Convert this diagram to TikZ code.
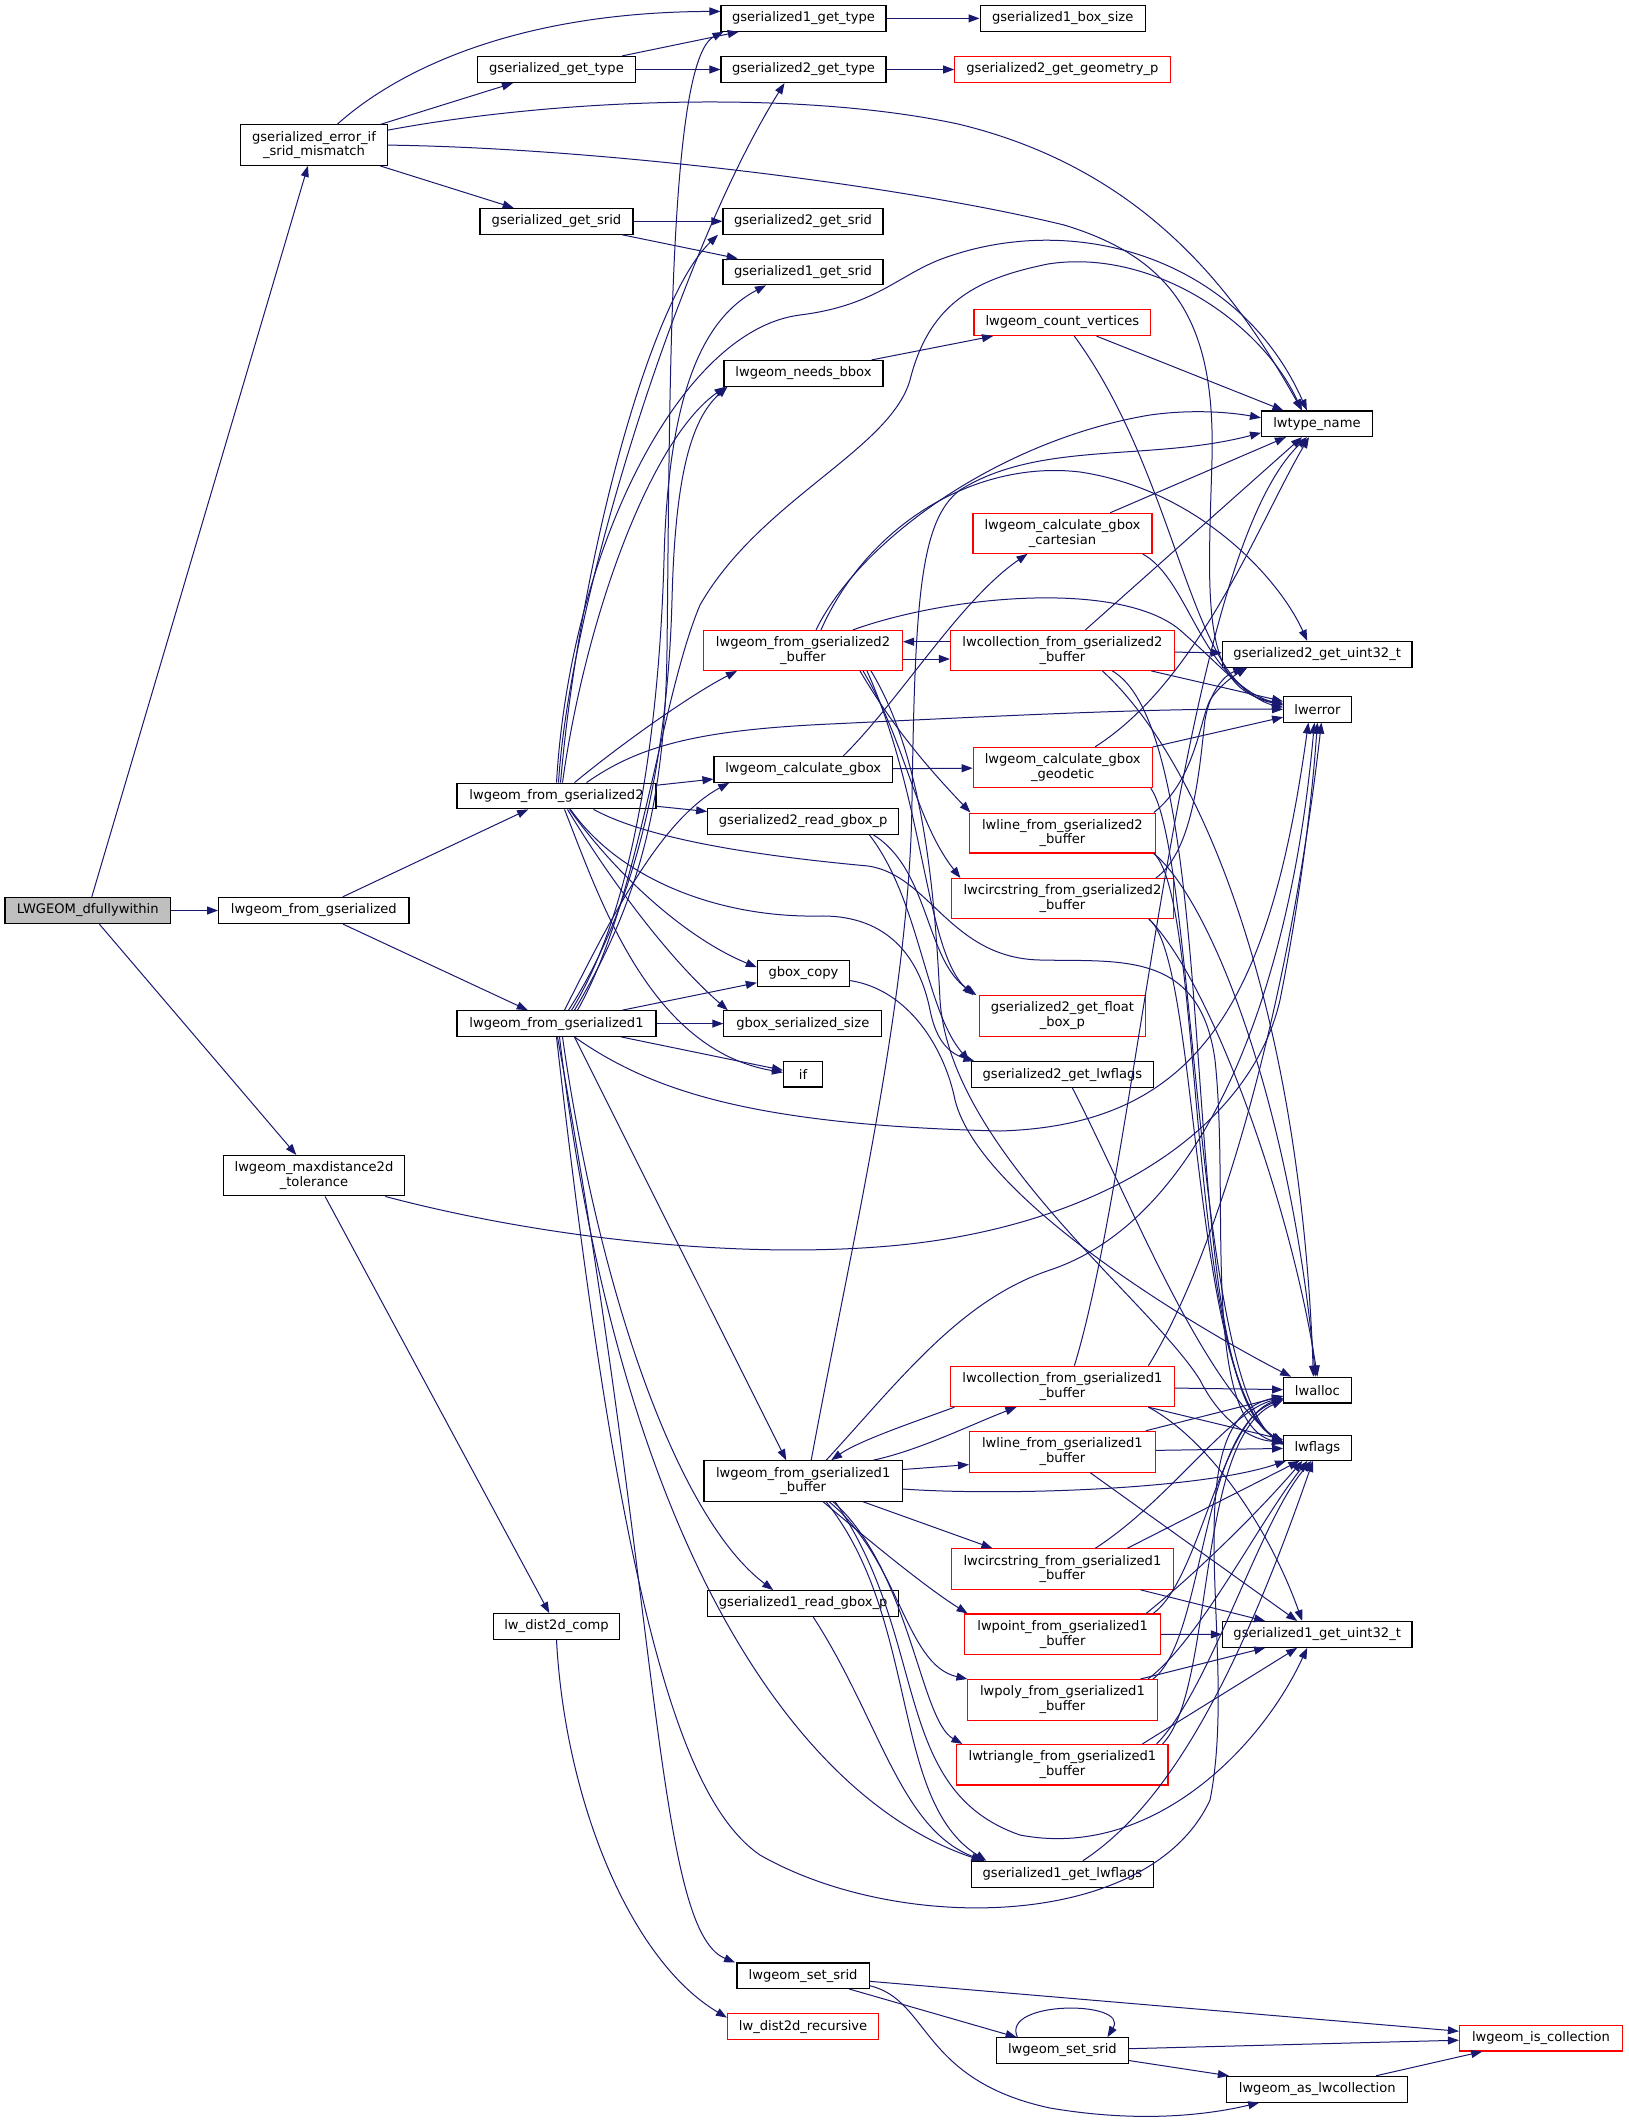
\documentclass[tikz,border=0pt]{standalone}
\usepackage{fontspec}
\setmainfont{DejaVu Sans}
\usetikzlibrary{arrows.meta}
\definecolor{navy}{HTML}{191970}
\definecolor{nodegray}{HTML}{BFBFBF}
\begin{document}
\begin{tikzpicture}[x=1pt,y=1pt,
 box/.style={draw=black, line width=1.1pt, fill=white, inner sep=0pt, align=center, font=\fontsize{13.1}{14.7}\selectfont},
 redbox/.style={box, draw=red},
 call/.style={draw=navy, line width=1pt, -{Triangle[length=11pt,width=8pt]}}]
\fill[white] (0,0) rectangle (1628,-2122);
\path[use as bounding box] (0,0) rectangle (1628,-2122);

% ---------- nodes ----------
\node[box, fill=nodegray, minimum width=165.5pt, minimum height=26.2pt] (n0) at (87.75,-910.5) {LWGEOM\_dfullywithin};
\node[box, minimum width=147pt, minimum height=40.4pt] (n1) at (314,-145.1) {gserialized\_error\_if\\\_srid\_mismatch};
\node[box, minimum width=190.4pt, minimum height=26.2pt] (n2) at (313.8,-910.5) {lwgeom\_from\_gserialized};
\node[box, minimum width=181.5pt, minimum height=40.4pt] (n3) at (314,-1175.7) {lwgeom\_maxdistance2d\\\_tolerance};
\node[box, minimum width=158pt, minimum height=26.1pt] (n4) at (556.5,-69.5) {gserialized\_get\_type};
\node[box, minimum width=153pt, minimum height=25.8pt] (n5) at (556.5,-221.3) {gserialized\_get\_srid};
\node[box, minimum width=199pt, minimum height=25.7pt] (n6) at (556.5,-796) {lwgeom\_from\_gserialized2};
\node[box, minimum width=199pt, minimum height=25.7pt] (n7) at (556.5,-1023.6) {lwgeom\_from\_gserialized1};
\node[box, minimum width=126.6pt, minimum height=25.8pt] (n8) at (556.5,-1626.5) {lw\_dist2d\_comp};
\node[box, minimum width=165pt, minimum height=25.7pt] (n9) at (803.5,-18.4) {gserialized1\_get\_type};
\node[box, minimum width=165pt, minimum height=26.1pt] (n10) at (803.5,-69.5) {gserialized2\_get\_type};
\node[box, minimum width=160pt, minimum height=25.8pt] (n11) at (803,-221.3) {gserialized2\_get\_srid};
\node[box, minimum width=160pt, minimum height=25.7pt] (n12) at (803,-271.9) {gserialized1\_get\_srid};
\node[box, minimum width=159pt, minimum height=25.7pt] (n13) at (803.5,-373.3) {lwgeom\_needs\_bbox};
\node[redbox, minimum width=199pt, minimum height=40pt] (n14) at (803,-650.4) {lwgeom\_from\_gserialized2\\\_buffer};
\node[box, minimum width=178.4pt, minimum height=25.7pt] (n15) at (803.2,-769.4) {lwgeom\_calculate\_gbox};
\node[box, minimum width=191pt, minimum height=25.7pt] (n16) at (803.2,-821.3) {gserialized2\_read\_gbox\_p};
\node[box, minimum width=92.3pt, minimum height=25.7pt] (n17) at (803.5,-973.2) {gbox\_copy};
\node[box, minimum width=158pt, minimum height=25.7pt] (n18) at (802.8,-1023.6) {gbox\_serialized\_size};
\node[box, minimum width=39.2pt, minimum height=25.2pt] (n19) at (803.1,-1074.4) {if};
\node[box, minimum width=198.4pt, minimum height=40.5pt] (n20) at (803.2,-1481) {lwgeom\_from\_gserialized1\\\_buffer};
\node[box, minimum width=191pt, minimum height=25.8pt] (n21) at (803.2,-1603.5) {gserialized1\_read\_gbox\_p};
\node[box, minimum width=182.7pt, minimum height=25.8pt] (n22) at (1062.4,-1874.2) {gserialized1\_get\_lwflags};
\node[box, minimum width=132.2pt, minimum height=25.4pt] (n23) at (803.1,-1975.7) {lwgeom\_set\_srid};
\node[redbox, minimum width=151.2pt, minimum height=25.8pt] (n24) at (803.1,-2026.6) {lw\_dist2d\_recursive};
\node[box, minimum width=165.3pt, minimum height=25.7pt] (n25) at (1062.7,-18.4) {gserialized1\_box\_size};
\node[redbox, minimum width=215.3pt, minimum height=26.1pt] (n26) at (1062.4,-69.5) {gserialized2\_get\_geometry\_p};
\node[redbox, minimum width=176.6pt, minimum height=26.1pt] (n27) at (1062.3,-322.5) {lwgeom\_count\_vertices};
\node[redbox, minimum width=179pt, minimum height=40pt] (n28) at (1062.5,-533.3) {lwgeom\_calculate\_gbox\\\_cartesian};
\node[redbox, minimum width=223.8pt, minimum height=40pt] (n29) at (1062.4,-650.4) {lwcollection\_from\_gserialized2\\\_buffer};
\node[redbox, minimum width=179pt, minimum height=40.4pt] (n30) at (1062.7,-767.5) {lwgeom\_calculate\_gbox\\\_geodetic};
\node[redbox, minimum width=185.8pt, minimum height=39.9pt] (n31) at (1062.4,-833) {lwline\_from\_gserialized2\\\_buffer};
\node[redbox, minimum width=221.8pt, minimum height=39.9pt] (n32) at (1062.4,-898.5) {lwcircstring\_from\_gserialized2\\\_buffer};
\node[redbox, minimum width=165.8pt, minimum height=40.4pt] (n33) at (1062.4,-1015.9) {gserialized2\_get\_float\\\_box\_p};
\node[box, minimum width=182.7pt, minimum height=25.7pt] (n34) at (1062.4,-1074.6) {gserialized2\_get\_lwflags};
\node[redbox, minimum width=223.8pt, minimum height=40.4pt] (n35) at (1062.4,-1386.4) {lwcollection\_from\_gserialized1\\\_buffer};
\node[redbox, minimum width=185.8pt, minimum height=41pt] (n36) at (1062.4,-1451.8) {lwline\_from\_gserialized1\\\_buffer};
\node[redbox, minimum width=221.8pt, minimum height=40.5pt] (n37) at (1062.4,-1569) {lwcircstring\_from\_gserialized1\\\_buffer};
\node[redbox, minimum width=195.9pt, minimum height=40.6pt] (n38) at (1062.6,-1634.3) {lwpoint\_from\_gserialized1\\\_buffer};
\node[redbox, minimum width=190pt, minimum height=40.5pt] (n39) at (1062.4,-1699.8) {lwpoly\_from\_gserialized1\\\_buffer};
\node[redbox, minimum width=211.2pt, minimum height=40.5pt] (n40) at (1062.4,-1764.7) {lwtriangle\_from\_gserialized1\\\_buffer};
\node[box, minimum width=132pt, minimum height=25.3pt] (n41) at (1062.4,-2050.4) {lwgeom\_set\_srid};
\node[box, minimum width=110.8pt, minimum height=25.6pt] (n42) at (1316.9,-423.8) {lwtype\_name};
\node[box, minimum width=189.5pt, minimum height=25.7pt] (n43) at (1317.2,-654.3) {gserialized2\_get\_uint32\_t};
\node[box, minimum width=67.6pt, minimum height=25.5pt] (n44) at (1317.4,-709.3) {lwerror};
\node[box, minimum width=67.6pt, minimum height=25.8pt] (n45) at (1317.4,-1390.1) {lwalloc};
\node[box, minimum width=67.6pt, minimum height=24.8pt] (n46) at (1317.4,-1447.9) {lwflags};
\node[box, minimum width=189.5pt, minimum height=25.7pt] (n47) at (1317.2,-1634.4) {gserialized1\_get\_uint32\_t};
\node[redbox, minimum width=163.1pt, minimum height=25.8pt] (n48) at (1541,-2038.1) {lwgeom\_is\_collection};
\node[box, minimum width=181.1pt, minimum height=25.8pt] (n49) at (1317.2,-2089.2) {lwgeom\_as\_lwcollection};

% ---------- straight edges ----------
\draw[call] (n0) -- (n1);
\draw[call] (n0) -- (n2);
\draw[call] (n0) -- (n3);
\draw[call] (n1) -- (n4);
\draw[call] (n1) -- (n5);
\draw[call] (n4) -- (n9);
\draw[call] (n4) -- (n10);
\draw[call] (n9) -- (n25);
\draw[call] (n10) -- (n26);
\draw[call] (n5) -- (n11);
\draw[call] (n5) -- (n12);
\draw[call] (n13) -- (n27);
\draw[call] (n2) -- (n6);
\draw[call] (n2) -- (n7);
\draw[call] (n3) -- (n8);
\draw[call] ([xshift=18]n7.south) -- ([xshift=-17]n20.north);
\draw[call] (n7) -- (n17);
\draw[call] (n7) -- (n18);
\draw[call] (n7) -- (n19);
\draw[call] (n6) -- (n15);
\draw[call] (n6) -- (n16);
\draw[call] (n15) -- (n30);
\draw[call] ([yshift=-8.6]n14.east) -- ([yshift=-8.6]n29.west);
\draw[call] ([yshift=8.7]n29.west) -- ([yshift=8.7]n14.east);
\draw[call] (n29) -- (n43);
\draw[call] (n29) -- (n44);
\draw[call] (n30) -- (n44);
\draw[call] (n28) -- (n42);
\draw[call] (n27) -- (n42);
\draw[call] (n29) -- (n42);
\draw[call] (n30) .. controls (1200,-680) and (1260,-520) .. (n42);

% ---------- gserialized_error_if / maxdistance ----------
\draw[call] (n1) .. controls (400,-68) and (520,-12) .. ([yshift=7]n9.west);
\draw[call] ([yshift=15]n1.east) .. controls (560,-98) and (800,-90) .. (958,-124) .. controls (1150,-170) and (1240,-300) .. ([xshift=-15]n42.north);
\draw[call] (n1.east) .. controls (600,-148) and (900,-185) .. (1064,-225) .. controls (1180,-260) and (1215,-330) .. (1212,-459) .. controls (1208,-600) and (1200,-690) .. ([yshift=6]n44.west);
\draw[call] ([xshift=-20]n3.south east) .. controls (550,-1240) and (750,-1260) .. (900,-1245) .. controls (1100,-1225) and (1250,-1130) .. (1280,-1000) .. controls (1300,-900) and (1312,-800) .. (n44.south);
\draw[call] (n8.south) .. controls (565,-1800) and (630,-1960) .. ([yshift=9]n24.west);

% ---------- lwgeom_from_gserialized2 ----------
\draw[call] ([xshift=2]n6.north) .. controls (570,-600) and (680,-250) .. ([xshift=-19]n10.south);
\draw[call] ([xshift=4]n6.north) .. controls (580,-560) and (650,-300) .. ([xshift=-85]n11.south);
\draw[call] ([xshift=6]n6.north) .. controls (585,-620) and (650,-440) .. ([xshift=-78]n13.south);
\draw[call] (n6.north) .. controls (570,-550) and (680,-330) .. (800,-315) .. controls (880,-305) and (900,-272) .. (950,-256) .. controls (1080,-212) and (1240,-260) .. ([xshift=-10]n42.north);
\draw[call] ([xshift=18]n6.north) .. controls (620,-745) and (690,-695) .. ([xshift=-66]n14.south);
\draw[call] ([xshift=30]n6.north) .. controls (640,-745) and (700,-730) .. (830,-724) .. controls (1000,-716) and (1150,-708) .. (n44.west);
\draw[call] ([xshift=37]n6.south) .. controls (650,-840) and (760,-856) .. (868,-866) .. controls (930,-875) and (950,-958) .. (1040,-960) .. controls (1120,-962) and (1200,-950) .. (1215,-1060) .. controls (1230,-1200) and (1200,-1420) .. ([yshift=4]n46.west);
\draw[call] ([xshift=14]n6.south) .. controls (620,-880) and (720,-918) .. (820,-916) .. controls (890,-915) and (920,-960) .. (930,-1010) .. controls (935,-1035) and (945,-1052) .. ([xshift=-88]n34.north);
\draw[call] ([xshift=8]n6.south) .. controls (600,-900) and (650,-1050) .. ([yshift=2]n19.west);
\draw[call] ([xshift=13]n6.south) .. controls (620,-880) and (690,-940) .. ([yshift=6]n17.west);
\draw[call] ([xshift=11]n6.south) .. controls (610,-880) and (670,-960) .. ([xshift=-75]n18.north);

% ---------- lwgeom_from_gserialized1 ----------
\draw[call] ([xshift=18]n7.north) .. controls (640,-900) and (665,-800) .. (667,-650) .. controls (670,-400) and (668,-60) .. ([xshift=-80]n9.south);
\draw[call] ([xshift=15]n7.north) .. controls (640,-900) and (660,-700) .. (664,-560) .. controls (668,-400) and (700,-320) .. ([xshift=-37]n12.south);
\draw[call] ([xshift=12]n7.north) .. controls (640,-900) and (668,-750) .. (672,-600) .. controls (675,-480) and (690,-420) .. ([xshift=-76]n13.south);
\draw[call] ([xshift=21]n7.north) .. controls (640,-900) and (660,-700) .. (700,-605) .. controls (760,-500) and (890,-450) .. (910,-380) .. controls (930,-300) and (980,-278) .. (1048,-264) .. controls (1150,-248) and (1260,-320) .. ([xshift=-15]n42.north);
\draw[call] ([xshift=8]n7.north) .. controls (610,-920) and (660,-820) .. ([xshift=-74]n15.south);
\draw[call] ([xshift=18]n7.south) .. controls (650,-1090) and (750,-1125) .. (1000,-1131) .. controls (1200,-1125) and (1270,-1000) .. ([xshift=-9]n44.south);
\draw[call] ([xshift=6]n7.south) .. controls (600,-1300) and (680,-1520) .. ([xshift=-30]n21.north);
\draw[call] ([xshift=3]n7.south) .. controls (620,-1550) and (800,-1800) .. ([xshift=-80]n22.north);
\draw[call] ([xshift=1]n7.south) .. controls (660,-1600) and (655,-1930) .. ([xshift=-68]n23.north);
\draw[call] (n7.south) .. controls (620,-1600) and (680,-1800) .. (760,-1855) .. controls (900,-1935) and (1150,-1930) .. (1210,-1800) .. controls (1240,-1650) and (1170,-1420) .. ([yshift=-6]n45.west);

% ---------- lwgeom_from_gserialized1_buffer ----------
\draw[call] ([xshift=70]n20.north) .. controls (920,-1450) and (970,-1425) .. ([xshift=-46]n35.south);
\draw[call] ([xshift=-108]n35.south) .. controls (920,-1420) and (860,-1440) .. ([xshift=28]n20.north);
\draw[call] ([xshift=23]n20.north) .. controls (900,-1380) and (960,-1300) .. (1050,-1270) .. controls (1200,-1220) and (1290,-1000) .. ([xshift=-3]n44.south);
\draw[call] ([xshift=8]n20.north) .. controls (850,-1250) and (910,-1000) .. (912,-800) .. controls (915,-600) and (920,-520) .. (960,-490) .. controls (1040,-440) and (1150,-462) .. ([yshift=-9]n42.west);
\draw[call] ([yshift=11.5]n20.east) -- ([yshift=-12.8]n36.west);
\draw[call] ([yshift=-8]n20.east) .. controls (1000,-1496) and (1200,-1490) .. ([xshift=3]n46.south west);
\draw[call] ([xshift=60]n20.south) -- ([xshift=-70]n37.north);
\draw[call] ([xshift=20]n20.south) .. controls (880,-1550) and (930,-1590) .. ([xshift=-95]n38.north);
\draw[call] ([xshift=26]n20.south) .. controls (900,-1560) and (905,-1665) .. ([xshift=-95]n39.north);
\draw[call] ([xshift=30]n20.south) .. controls (910,-1570) and (920,-1720) .. ([xshift=-100]n40.north);
\draw[call] ([xshift=32]n20.south) .. controls (930,-1640) and (890,-1790) .. (1020,-1835) .. controls (1150,-1860) and (1260,-1750) .. ([xshift=-10]n47.south);
\draw[call] ([xshift=23]n20.south) .. controls (920,-1620) and (890,-1800) .. ([xshift=-76]n22.north);
\draw[call] ([xshift=10]n21.south) .. controls (880,-1720) and (900,-1830) .. ([xshift=-78]n22.north);

% ---------- gserialized1 buffer readers ----------
\draw[call] (n35) -- (n45);
\draw[call] (n35) -- (n46);
\draw[call] ([xshift=86]n35.south) .. controls (1210,-1440) and (1270,-1530) .. ([xshift=-15]n47.north);
\draw[call] ([xshift=12]n35.north) .. controls (1140,-1150) and (1180,-560) .. ([xshift=-10]n42.south);
\draw[call] ([xshift=86]n35.north) .. controls (1220,-1250) and (1290,-1000) .. ([xshift=4]n44.south);
\draw[call] ([xshift=-10]n36.north east) -- ([yshift=-6]n45.west);
\draw[call] (n36) -- (n46);
\draw[call] ([xshift=28]n36.south) -- ([xshift=-20]n47.north);
\draw[call] ([xshift=65]n37.north) -- ([xshift=-18]n46.south);
\draw[call] ([xshift=78]n37.south) -- ([xshift=-52]n47.north);
\draw[call] ([xshift=33]n37.north) .. controls (1170,-1500) and (1230,-1410) .. ([yshift=-8]n45.west);
\draw[call] (n38) -- (n47);
\draw[call] ([xshift=-15]n38.north east) .. controls (1200,-1570) and (1260,-1510) .. ([xshift=-15]n46.south);
\draw[call] ([xshift=-8]n38.north east) .. controls (1200,-1580) and (1220,-1420) .. ([yshift=-8]n45.west);
\draw[call] ([xshift=78]n39.north) -- ([xshift=-52]n47.south);
\draw[call] ([xshift=-10]n39.north east) .. controls (1200,-1640) and (1260,-1520) .. ([xshift=-10]n46.south);
\draw[call] ([xshift=-5]n39.north east) .. controls (1205,-1640) and (1200,-1430) .. ([yshift=-9]n45.west);
\draw[call] ([xshift=80]n40.north) -- ([xshift=-20]n47.south);
\draw[call] ([xshift=-12]n40.north east) .. controls (1210,-1690) and (1260,-1520) .. ([xshift=-6]n46.south);
\draw[call] ([xshift=-6]n40.north east) .. controls (1215,-1690) and (1195,-1440) .. ([yshift=-10]n45.west);
\draw[call] (n22) .. controls (1160,-1810) and (1230,-1700) .. (n46);

% ---------- set_srid group ----------
\draw[call] (n23) -- (n48);
\draw[call] (n23) -- (n41);
\draw[call] ([yshift=-10]n23.east) .. controls (930,-2000) and (920,-2080) .. (1050,-2108) .. controls (1150,-2125) and (1220,-2112) .. ([xshift=-58]n49.south);
\draw[call] ([xshift=-45]n41.north) .. controls (1000,-2000) and (1130,-2000) .. ([xshift=45]n41.north);
\draw[call] (n41) -- (n48);
\draw[call] (n41) -- (n49);
\draw[call] (n49) -- (n48);

% ---------- upper right group ----------
\draw[call] ([xshift=-10]n28.south east) .. controls (1190,-580) and (1200,-680) .. ([yshift=4]n44.west);
\draw[call] ([xshift=12]n27.south) .. controls (1180,-480) and (1190,-690) .. ([yshift=5]n44.west);
\draw[call] ([xshift=40]n15.north) .. controls (900,-700) and (960,-600) .. ([xshift=-35]n28.south);
\draw[call] ([xshift=70]n16.south) .. controls (930,-870) and (925,-960) .. ([xshift=-86]n33.north);
\draw[call] ([xshift=66]n16.south) .. controls (920,-900) and (925,-1010) .. ([xshift=-93]n34.north);
\draw[call] (n17) .. controls (910,-990) and (945,-1050) .. (955,-1100) .. controls (980,-1200) and (1200,-1330) .. (n45);
\draw[call] ([xshift=13]n14.north) .. controls (860,-540) and (1000,-440) .. (1150,-415) .. controls (1200,-408) and (1240,-414) .. ([yshift=6]n42.west);
\draw[call] ([xshift=18]n14.north) .. controls (870,-520) and (980,-460) .. (1080,-472) .. controls (1200,-490) and (1280,-580) .. ([xshift=-10]n43.north);
\draw[call] ([xshift=50]n14.north) .. controls (950,-595) and (1120,-580) .. (1180,-630) .. controls (1220,-665) and (1250,-700) .. ([yshift=2]n44.west);
\draw[call] ([xshift=57]n14.south) .. controls (893,-727) and (927,-767) .. ([xshift=-92]n31.north);
\draw[call] ([xshift=60]n14.south) .. controls (905,-740) and (915,-820) .. ([xshift=-102]n32.north);
\draw[call] ([xshift=64]n14.south) .. controls (925,-800) and (925,-950) .. ([xshift=-89]n33.north);
\draw[call] ([xshift=68]n14.south) .. controls (925,-760) and (935,-900) .. (940,-1000) .. controls (950,-1150) and (1150,-1300) .. (1200,-1380) .. controls (1220,-1420) and (1250,-1440) .. ([yshift=6]n46.west);
\draw[call] ([xshift=-2]n31.north east) .. controls (1195,-780) and (1200,-720) .. (1210,-700) .. controls (1220,-685) and (1235,-675) .. ([xshift=-70]n43.south);
\draw[call] ([xshift=-18]n32.north east) .. controls (1195,-850) and (1200,-760) .. (1205,-720) .. controls (1210,-690) and (1225,-675) .. ([xshift=-73]n43.south);
\draw[call] ([xshift=40]n29.south) .. controls (1200,-760) and (1300,-1000) .. ([xshift=-4]n45.north);
\draw[call] ([xshift=-2]n31.south east) .. controls (1210,-900) and (1290,-1100) .. ([xshift=-2]n45.north);
\draw[call] ([xshift=-25]n32.south east) .. controls (1210,-980) and (1290,-1200) .. (n45.north);
\draw[call] ([xshift=50]n29.south) .. controls (1230,-740) and (1170,-1380) .. ([yshift=6]n46.west);
\draw[call] ([xshift=-2]n31.south east) .. controls (1205,-900) and (1185,-1380) .. ([yshift=5]n46.west);
\draw[call] ([xshift=-25]n32.south east) .. controls (1200,-960) and (1190,-1380) .. ([yshift=4]n46.west);
\draw[call] ([xshift=-2]n30.south east) .. controls (1195,-850) and (1195,-1380) .. ([yshift=3]n46.west);
\draw[call] ([xshift=10]n34.south) .. controls (1130,-1200) and (1200,-1380) .. ([yshift=4]n46.west);
\end{tikzpicture}
\end{document}
